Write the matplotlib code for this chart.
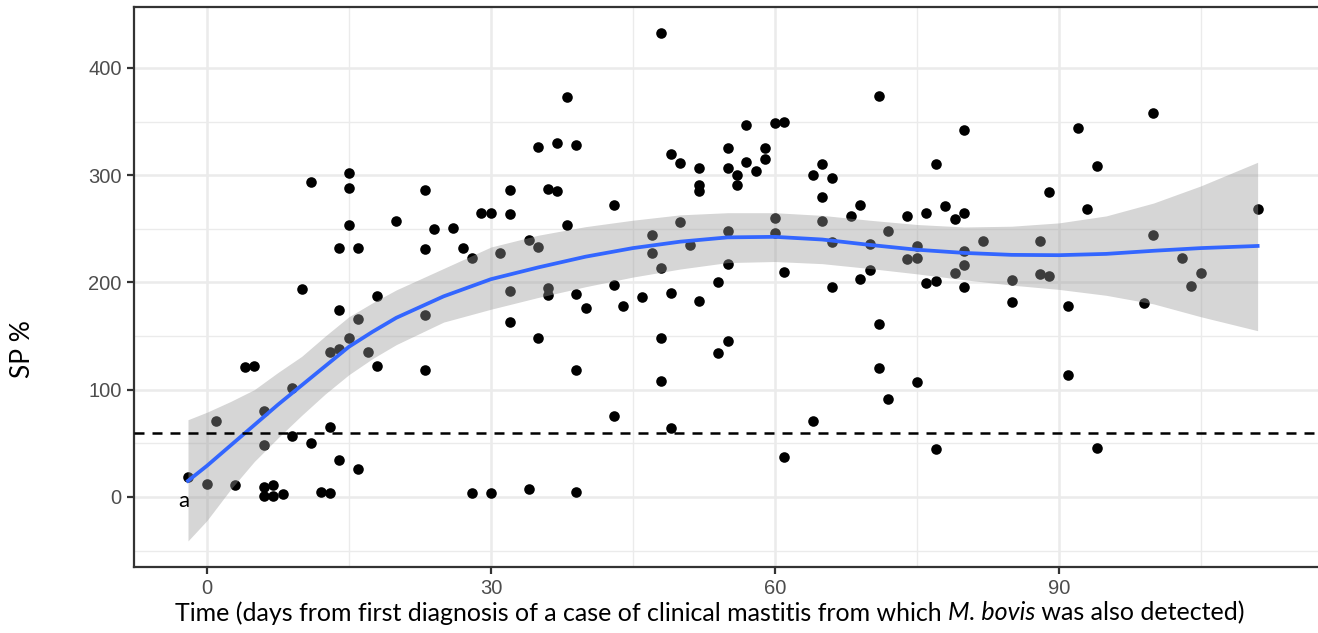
import matplotlib.pyplot as plt

# Serological SP% values by day since clinical case
days = [11, 15, 15, 15, 20, 23, 23, 14, 16, 10, 14, 18, 16, 23, 15, 14, 13, 17, 18, 23,
        4, 5, 9, 6, 1, 13, 9, 6, 11, 14, 16, -2, 0, 3, 6, 7, 6, 7, 8, 12, 13,
        24, 26, 27, 28, 29, 30, 31, 32, 32, 32, 32, 34, 35, 35, 35, 36, 37, 37, 38, 38,
        39, 36, 36, 39, 40, 39, 43, 43, 44, 43, 46, 47, 47, 48, 48, 48, 48, 49, 49, 49,
        50, 50, 51, 52, 52, 52, 52, 28, 30, 34, 39,
        54, 54, 55, 55, 55, 55, 55, 56, 56, 57, 57, 58, 59, 59, 60, 61, 60, 60, 61, 61,
        64, 64, 65, 65, 65, 66, 66, 66, 68, 69, 69, 70, 70, 71, 71, 71, 72, 72, 74, 74,
        75, 75, 75, 76, 76, 77, 77, 77, 78, 79, 79, 80, 80, 80, 80, 80, 82,
        85, 85, 88, 88, 89, 89, 91, 91, 92, 93, 94, 94, 99, 100, 100, 103, 104, 105, 111]
sp = [294, 302, 288, 254, 257, 286, 231, 232, 232, 194, 174, 187, 166, 170, 148, 138, 135, 135, 122, 118,
      121, 122, 102, 80, 71, 65, 57, 48, 50, 34, 26, 19, 12, 11, 9, 11, 1, 1, 3, 5, 4,
      250, 251, 232, 223, 265, 265, 227, 286, 264, 192, 163, 240, 233, 326, 148, 287, 285, 330, 373, 254,
      328, 195, 188, 189, 176, 118, 272, 198, 178, 75, 186, 244, 227, 433, 213, 148, 108, 320, 190, 64,
      311, 256, 235, 307, 291, 285, 183, 4, 4, 7, 5,
      200, 134, 325, 307, 248, 217, 145, 300, 291, 347, 312, 304, 325, 315, 349, 350, 260, 246, 210, 37,
      71, 300, 310, 280, 257, 297, 238, 196, 262, 272, 203, 236, 212, 374, 161, 120, 248, 91, 262, 222,
      234, 223, 107, 265, 199, 310, 201, 45, 271, 259, 209, 342, 265, 229, 216, 196, 239,
      202, 182, 239, 208, 206, 284, 178, 114, 344, 268, 309, 46, 181, 358, 244, 223, 197, 209, 268]

# loess trend with its 95% confidence band
smooth_day = [-2, 0, 2.5, 5, 7.5, 10, 12.5, 15, 17.5, 20, 25, 30, 35, 40, 45, 50, 55,
              60, 65, 70, 75, 80, 85, 90, 95, 100, 105, 111]
smooth_fit = [15, 29, 48, 67, 86, 104, 122, 140, 154, 167, 187, 203, 214, 224, 232, 238, 242,
              242.5, 240, 235, 230.5, 227.5, 225.7, 225.4, 226.6, 229.5, 232, 234]
smooth_hi = [72, 79, 89, 100, 116, 131, 150, 168, 181, 193, 213, 233, 244, 252, 258, 263, 265,
             265, 262.5, 258, 254, 251.7, 252.4, 255.5, 262, 274, 290, 312]
smooth_lo = [-41, -22, 7, 33, 55, 76, 96, 114, 129, 142, 163, 175, 186, 196, 205, 212.5, 218.5,
             219.5, 217.5, 213, 208, 202.5, 197.5, 193.5, 188, 180, 168, 155]
cutoff = 60

fig = plt.figure(figsize=(13.18, 6.33), dpi=100)
ax = fig.add_axes([0.1017, 0.1043, 0.92, 0.885])

ax.scatter(days, sp, s=58, color='black', linewidths=0, zorder=3)
ax.fill_between(smooth_day, smooth_lo, smooth_hi, color='#999999', alpha=0.4,
                linewidth=0, zorder=4)
ax.plot(smooth_day, smooth_fit, color='#3366FF', linewidth=2.7, zorder=5,
        solid_joinstyle='round')
ax.axhline(cutoff, color='black', linestyle=(0, (4, 3.2)), linewidth=1.8, zorder=6)
ax.text(-2.4, -4, 'a', family='Lato', fontsize=16, ha='center', va='center', zorder=7)

ax.set_xlim(-7.7, 120.4)
ax.set_ylim(-65.3, 457)
ax.set_xticks([0, 30, 60, 90])
ax.set_yticks([0, 100, 200, 300, 400])
ax.set_xticks([15, 45, 75, 105], minor=True)
ax.set_yticks([-50, 50, 150, 250, 350], minor=True)
ax.grid(which='major', color='#EBEBEB', linewidth=1.8, zorder=0)
ax.grid(which='minor', color='#EBEBEB', linewidth=1.0, zorder=0)
ax.set_axisbelow(True)

for side in ['left', 'bottom', 'top']:
    ax.spines[side].set_color('#333333')
    ax.spines[side].set_linewidth(1.6)
ax.spines['right'].set_visible(False)

ax.tick_params(which='major', length=5, width=1.6, color='#333333',
               labelsize=14.5, labelcolor='#4D4D4D', pad=4)
ax.tick_params(which='minor', length=0)
for lab in ax.get_xticklabels() + ax.get_yticklabels():
    lab.set_family('Liberation Sans')

# x-axis title with the italic species name, laid out piece by piece
parts = [('Time (days from first diagnosis of a case of clinical mastitis from which ', 'normal'),
         ('M. bovis', 'italic'),
         (' was also detected)', 'normal')]
renderer = fig.canvas.get_renderer()
pieces = []
for txt, style in parts:
    t = fig.text(0, 0.032, txt, family='Lato', style=style, fontsize=18,
                 ha='left', va='center')
    pieces.append(t)
widths = [p.get_window_extent(renderer).width for p in pieces]
start = 710 - sum(widths) / 2
for p, w in zip(pieces, widths):
    p.set_x(start / fig.bbox.width)
    start += w

fig.text(0.017, 0.449, 'SP %', family='Lato', fontsize=19, rotation=90,
         ha='center', va='center')

fig.savefig('out.png', dpi=100)
